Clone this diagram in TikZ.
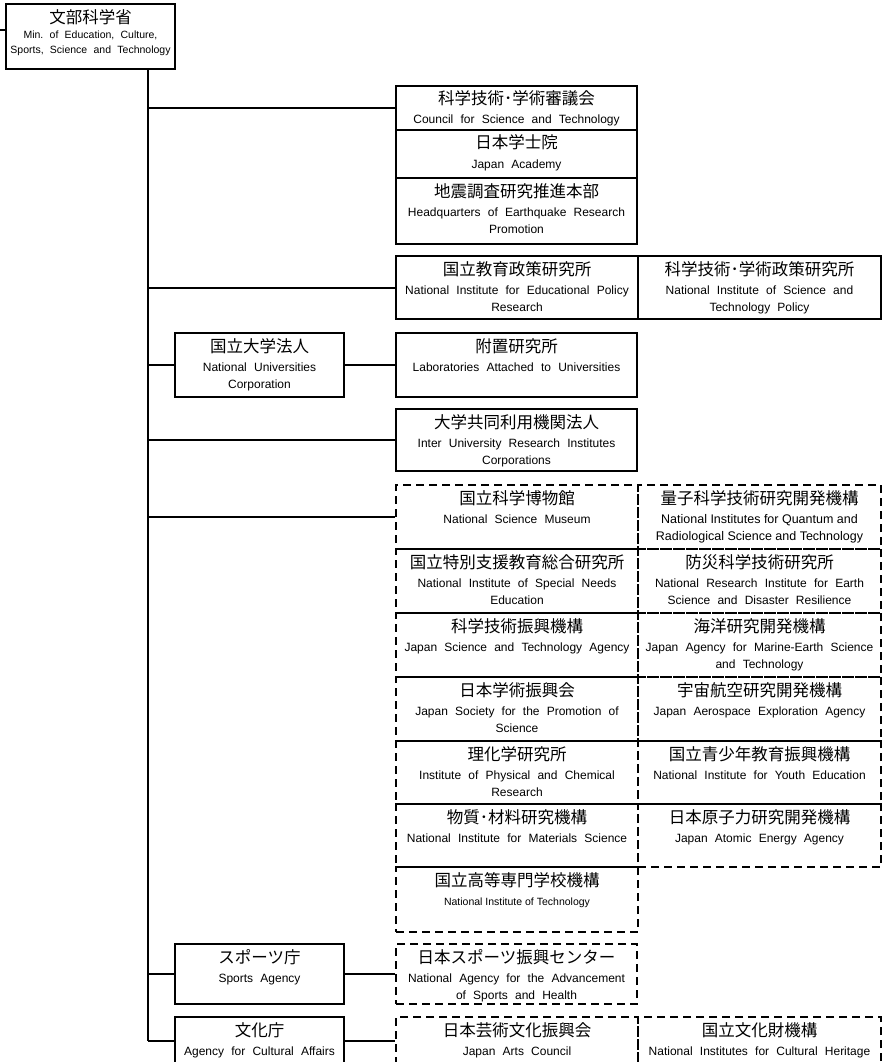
\documentclass[tikz,border=0pt]{standalone}
\usepackage{fontspec}
\usepackage{tikz}

\newfontfamily\jpfont{Noto Sans CJK JP}
\newfontfamily\enfont{Liberation Sans}
\newcommand{\jname}[1]{{\jpfont\fontsize{16.5}{17}\selectfont#1}}
\newcommand{\enwide}[2]{\enfont\fontsize{#1}{#2}\selectfont\frenchspacing
  \spaceskip=0.6em plus 0.1em minus 0.1em\relax}

\begin{document}
\begin{tikzpicture}[x=1pt, y=-1pt,
  orgbox/.style={draw, line width=2pt, anchor=north west, inner sep=0pt,
    align=flush center, text height=19pt, font=\enwide{12}{17}},
  subbox/.style={orgbox, dash pattern=on 8pt off 5pt},
  link/.style={line width=2pt}]
\path[use as bounding box, clip] (0,0) rectangle (882,1062);

% ministry
\node[orgbox, text width=169pt, text height=20pt, text depth=45pt,
  font=\enwide{10.5}{15.5}] (mext) at (5,3)
  {\jname{文部科学省}\\[-1pt]Min. of Education, Culture,\\Sports, Science and Technology};
\coordinate (feed) at (0,30);
\coordinate (trunk) at (148,0);

% councils
\node[orgbox, text width=241pt, text depth=25pt] (cst) at (395,85)
  {\jname{科学技術･学術審議会}\\[2pt]Council for Science and Technology};
\node[orgbox, text width=241pt, text depth=29pt] (jacad) at (395,129)
  {\jname{日本学士院}\\[2pt]Japan Academy};
\node[orgbox, text width=241pt, text depth=47pt] (quake) at (395,177)
  {\jname{地震調査研究推進本部}\\[2pt]Headquarters of Earthquake Research\\Promotion};

% institutes
\node[orgbox, text width=242pt, text depth=44pt] (nier) at (395,255)
  {\jname{国立教育政策研究所}\\[2pt]National Institute for Educational Policy\\Research};
\node[orgbox, text width=243pt, text depth=44pt] (nistep) at (637,255)
  {\jname{科学技術･学術政策研究所}\\[2pt]National Institute of Science and\\Technology Policy};

% universities
\node[orgbox, text width=169pt, text depth=45pt] (univ) at (174,332)
  {\jname{国立大学法人}\\[2pt]National Universities\\Corporation};
\node[orgbox, text width=241pt, text depth=45pt] (labs) at (395,332)
  {\jname{附置研究所}\\[2pt]Laboratories Attached to Universities};
\node[orgbox, text width=241pt, text depth=43pt] (iur) at (395,408)
  {\jname{大学共同利用機関法人}\\[2pt]Inter University Research Institutes\\Corporations};

% incorporated administrative agencies
\node[subbox, text width=242pt, text depth=45pt] (nsm) at (395,484)
  {\jname{国立科学博物館}\\[2pt]National Science Museum};
\node[subbox, text width=243pt, text depth=45pt,
  font=\enfont\fontsize{12.5}{17}\selectfont] (qst) at (637,484)
  {\jname{量子科学技術研究開発機構}\\[2pt]National Institutes for Quantum and\\Radiological Science and Technology};
\node[subbox, text width=242pt, text depth=45pt] (nise) at (395,548)
  {\jname{国立特別支援教育総合研究所}\\[2pt]National Institute of Special Needs\\Education};
\node[subbox, text width=243pt, text depth=45pt] (nied) at (637,548)
  {\jname{防災科学技術研究所}\\[2pt]National Research Institute for Earth\\Science and Disaster Resilience};
\node[subbox, text width=242pt, text depth=45pt] (jst) at (395,612)
  {\jname{科学技術振興機構}\\[2pt]Japan Science and Technology Agency};
\node[subbox, text width=243pt, text depth=45pt] (jamstec) at (637,612)
  {\jname{海洋研究開発機構}\\[2pt]Japan Agency for Marine-Earth Science\\and Technology};
\node[subbox, text width=242pt, text depth=45pt] (jsps) at (395,676)
  {\jname{日本学術振興会}\\[2pt]Japan Society for the Promotion of\\Science};
\node[subbox, text width=243pt, text depth=45pt] (jaxa) at (637,676)
  {\jname{宇宙航空研究開発機構}\\[2pt]Japan Aerospace Exploration Agency};
\node[subbox, text width=242pt, text depth=44pt] (riken) at (395,740)
  {\jname{理化学研究所}\\[2pt]Institute of Physical and Chemical\\Research};
\node[subbox, text width=243pt, text depth=44pt] (niye) at (637,740)
  {\jname{国立青少年教育振興機構}\\[2pt]National Institute for Youth Education};
\node[subbox, text width=242pt, text depth=44pt] (nims) at (395,803)
  {\jname{物質･材料研究機構}\\[2pt]National Institute for Materials Science};
\node[subbox, text width=243pt, text depth=44pt] (jaea) at (637,803)
  {\jname{日本原子力研究開発機構}\\[2pt]Japan Atomic Energy Agency};
\node[subbox, text width=242pt, text depth=46pt,
  font=\enfont\fontsize{10.5}{17}\selectfont] (kosen) at (395,866)
  {\jname{国立高等専門学校機構}\\[2pt]National Institute of Technology};

% agencies
\node[orgbox, text width=169pt, text depth=41pt] (spa) at (174,943)
  {\jname{スポーツ庁}\\[2pt]Sports Agency};
\node[subbox, text width=241pt, text depth=41pt] (jsc) at (395,943)
  {\jname{日本スポーツ振興センター}\\[2pt]National Agency for the Advancement\\of Sports and Health};
\node[orgbox, text width=169pt, text depth=29pt] (bunka) at (174,1016)
  {\jname{文化庁}\\[2pt]Agency for Cultural Affairs};
\node[subbox, text width=242pt, text depth=29pt] (ntj) at (395,1016)
  {\jname{日本芸術文化振興会}\\[2pt]Japan Arts Council};
\node[subbox, text width=243pt, text depth=29pt] (nich) at (637,1016)
  {\jname{国立文化財機構}\\[2pt]National Institutes for Cultural Heritage};

% connectors
\draw[link] (feed) -- (feed -| mext.west);
\draw[link] (trunk |- mext.south) -- (trunk |- bunka.west);
\draw[link] (trunk |- cst.west) -- (cst.west);
\draw[link] (trunk |- nier.west) -- (nier.west);
\draw[link] (trunk |- univ.west) -- (univ.west);
\draw[link] (univ.east) -- (labs.west);
\draw[link] (trunk |- iur.west) -- (iur.west);
\draw[link] (trunk |- nsm.west) -- (nsm.west);
\draw[link] (trunk |- spa.west) -- (spa.west);
\draw[link] (spa.east) -- (jsc.west);
\draw[link] (trunk |- bunka.west) -- (bunka.west);
\draw[link] (bunka.east) -- (ntj.west);
\end{tikzpicture}
\end{document}
